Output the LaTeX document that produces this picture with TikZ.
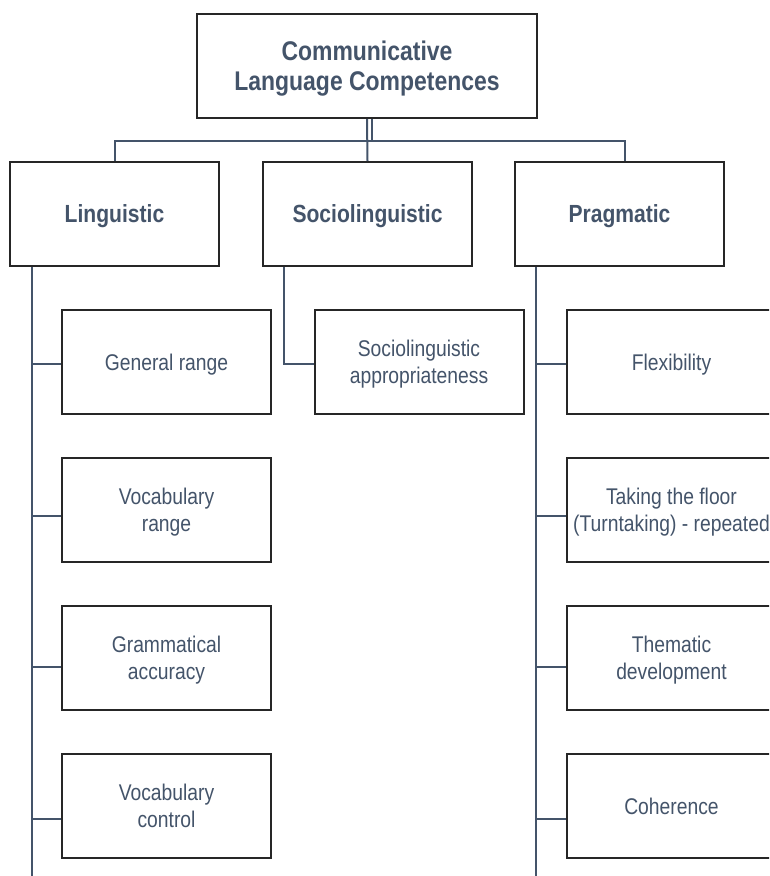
\documentclass[tikz,border=0pt]{standalone}
\usepackage{fontspec}
\setmainfont[FakeStretch=0.85]{Liberation Sans}
\usepackage{xcolor}
\usepackage{tikz}
\usetikzlibrary{calc}
\definecolor{slate}{HTML}{44546A}
\definecolor{frame}{HTML}{262626}

\begin{document}
\begin{tikzpicture}[
    x=1pt, y=-1pt,
    root/.style={draw=frame, line width=2pt, fill=white, minimum width=340pt, minimum height=104pt, align=center, text depth=-3.3pt, text=slate, font=\bfseries\fontsize{27}{30}\selectfont},
    head/.style={draw=frame, line width=2pt, fill=white, minimum width=209pt, minimum height=104pt, align=center, text depth=-0.8pt, text=slate, font=\bfseries\fontsize{24.8}{28}\selectfont},
    leaf/.style={draw=frame, line width=2pt, fill=white, minimum width=209pt, minimum height=104pt, align=center, text depth=-3pt, text=slate, font=\fontsize{22.7}{27}\selectfont},
    link/.style={draw=slate, line width=2pt}
]
\clip (0,0) rectangle (769,876);

\node[root] (clc) at (367,66) {Communicative\\Language Competences};

\node[head] (ling) at (114.5,214) {Linguistic};
\node[head] (socio) at (367.5,214) {Sociolinguistic};
\node[head] (prag) at (619.5,214) {Pragmatic};

\node[leaf] (genrange) at (166.5,362) {General range};
\node[leaf] (vocrange) at (166.5,510) {Vocabulary\\range};
\node[leaf] (gramacc) at (166.5,658) {Grammatical\\accuracy};
\node[leaf] (vocctrl) at (166.5,806) {Vocabulary\\control};

\node[leaf] (approp) at (419,362) {Sociolinguistic\\appropriateness};

\node[leaf] (flex) at (671.5,362) {Flexibility};
\node[leaf] (floor) at (671.5,510) {Taking the floor\\(Turntaking) - repeated};
\node[leaf] (thematic) at (671.5,658) {Thematic\\development};
\node[leaf] (coher) at (671.5,806) {Coherence};

% top level
\coordinate (hub) at (372,141);
\draw[link] ([xshift=5pt]clc.south) -- (hub);
\draw[link] (clc.south) -- (socio.north);
\draw[link] ([xshift=0.5pt]ling.north) |- (hub);
\draw[link] ([xshift=5.5pt]prag.north) |- (hub);

% rails
\coordinate (lrail) at ($(ling.south west)+(23,0)$);
\coordinate (srail) at ($(socio.south west)+(22,0)$);
\coordinate (prail) at ($(prag.south west)+(22,0)$);
\coordinate (lend) at (lrail |- 0,876);
\coordinate (pend) at (prail |- 0,876);
\draw[link] (lrail) -- (lend);
\draw[link] (prail) -- (pend);

\draw[link] (lrail) |- ([yshift=-2pt]genrange.west);
\draw[link] (lrail) |- ([yshift=-6pt]vocrange.west);
\draw[link] (lrail) |- ([yshift=-9pt]gramacc.west);
\draw[link] (lrail) |- ([yshift=-13pt]vocctrl.west);

\draw[link] (srail) |- ([yshift=-2pt]approp.west);

\draw[link] (prail) |- ([yshift=-2pt]flex.west);
\draw[link] (prail) |- ([yshift=-6pt]floor.west);
\draw[link] (prail) |- ([yshift=-9pt]thematic.west);
\draw[link] (prail) |- ([yshift=-13pt]coher.west);
\end{tikzpicture}
\end{document}
